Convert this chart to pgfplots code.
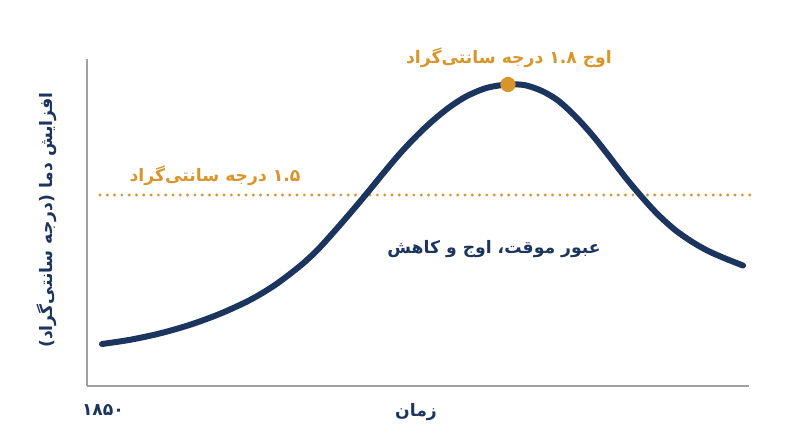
\documentclass[border=0pt]{standalone}
\usepackage{pgfplots}
\pgfplotsset{compat=1.18}
\usepackage{fontspec}
\TeXXeTstate=1
\newfontfamily\arabicfont[Script=Arabic]{DejaVu Sans}
\definecolor{navy}{HTML}{1C355E}
\definecolor{gold}{HTML}{D8952B}
\definecolor{axisgray}{HTML}{A0A0A0}

\begin{document}
\begin{tikzpicture}
% page = 800x447 px, 1 px = 0.5 pt, axis box starts at px (87,386)
\path[use as bounding box] (-43.5pt,-30.5pt) rectangle (356.5pt,193pt);
\begin{axis}[
  width=331pt, height=163.5pt,
  scale only axis,
  at={(0pt,0pt)}, anchor=south west,
  xmin=0, xmax=662,
  ymin=0, ymax=327,
  axis lines=left,
  axis line style={-, axisgray, line width=0.75pt},
  ticks=none,
  clip=false,
  font=\arabicfont\bfseries\fontsize{8.6}{10}\selectfont,
]
% 1.5 degree threshold
\addplot[gold, line width=1.6pt, line cap=round,
  dash pattern=on 0pt off 3.65pt] coordinates {(13,191) (666,191)};

% overshoot curve
\addplot[navy, line width=3pt, line cap=round, smooth, tension=0.5] coordinates {
(15,42) (43,46.2) (73,52.6) (103,61.2) (133,72.2) (163,86) (188,101)
(213,120) (230,135.6) (246,153.1) (263,172.6) (280,192.8) (296,212.4)
(313,232.5) (330,250.5) (346,265.5) (363,279.2) (380,290) (400,298.2)
(421,301.5) (438,300.8) (455,295) (471,285.5) (488,270) (505,251.3)
(521,231.2) (538,209.1) (555,188.8) (571,171.4) (588,156.1) (605,144.2)
(621,135.1) (638,127.6) (656,120.5)
};

% peak marker
\addplot[only marks, mark=*, mark size=3.6pt, gold, mark options={draw=gold, fill=gold}]
  coordinates {(421,301.5)};

\node[gold] at (axis cs:422,328) {\beginR اوج \beginL ۱.۸\endL{} درجه سانتی‌گراد\endR};
\node[gold] at (axis cs:128,210) {\beginR \beginL ۱.۵\endL{} درجه سانتی‌گراد\endR};
\node[navy] at (axis cs:407,137) {\beginR عبور موقت، اوج و کاهش\endR};
\node[navy] at (axis cs:-40,166) [rotate=90] {\beginR افزایش دما (درجه سانتی‌گراد)\endR};
\node[navy] at (axis cs:16,-24) {۱۸۵۰};
\node[navy] at (axis cs:329,-26) {\beginR زمان\endR};
\end{axis}
\end{tikzpicture}
\end{document}
